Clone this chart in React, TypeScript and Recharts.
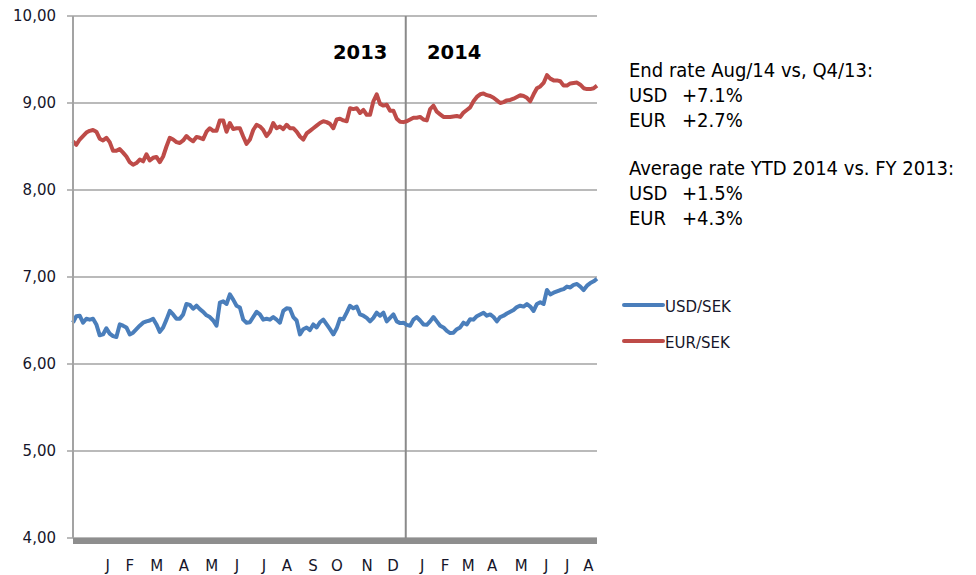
import { LineChart, Line, XAxis, YAxis, CartesianGrid, ReferenceLine, Legend } from "recharts"

// weekly-ish samples, Jan 2013 - Aug 2014
const usdSek = [
  6.475, 6.55, 6.555, 6.475, 6.52, 6.51, 6.52, 6.455, 6.33, 6.34,
  6.41, 6.35, 6.32, 6.31, 6.455, 6.44, 6.42, 6.34, 6.36, 6.4,
  6.44, 6.475, 6.49, 6.5, 6.52, 6.455, 6.37, 6.42, 6.51, 6.61,
  6.57, 6.52, 6.52, 6.57, 6.69, 6.68, 6.635, 6.67, 6.63, 6.6,
  6.56, 6.54, 6.5, 6.44, 6.705, 6.72, 6.69, 6.8, 6.74, 6.67,
  6.65, 6.51, 6.475, 6.48, 6.54, 6.6, 6.57, 6.51, 6.52, 6.51,
  6.54, 6.51, 6.475, 6.61, 6.64, 6.635, 6.54, 6.5, 6.34, 6.4,
  6.42, 6.39, 6.455, 6.42, 6.48, 6.51, 6.455, 6.4, 6.34, 6.41,
  6.52, 6.515, 6.59, 6.67, 6.64, 6.66, 6.57, 6.555, 6.53, 6.49,
  6.53, 6.59, 6.555, 6.59, 6.49, 6.53, 6.57, 6.49, 6.47, 6.475,
  6.45, 6.44, 6.51, 6.54, 6.5, 6.455, 6.45, 6.49, 6.54, 6.49,
  6.44, 6.42, 6.38, 6.355, 6.36, 6.4, 6.42, 6.475, 6.455, 6.515,
  6.51, 6.55, 6.57, 6.59, 6.555, 6.57, 6.54, 6.49, 6.54, 6.555,
  6.58, 6.6, 6.62, 6.655, 6.67, 6.66, 6.69, 6.66, 6.61, 6.69,
  6.71, 6.69, 6.85, 6.8, 6.82, 6.835, 6.85, 6.86, 6.89, 6.88,
  6.91, 6.92, 6.89, 6.85, 6.9, 6.93, 6.95, 6.98,
]

const eurSek = [
  8.56, 8.52, 8.58, 8.62, 8.66, 8.68, 8.69, 8.67, 8.59, 8.57,
  8.6, 8.55, 8.45, 8.45, 8.47, 8.43, 8.385, 8.32, 8.29, 8.31,
  8.35, 8.33, 8.41, 8.34, 8.37, 8.38, 8.32, 8.385, 8.5, 8.6,
  8.58, 8.55, 8.54, 8.57, 8.62, 8.585, 8.56, 8.61, 8.6, 8.585,
  8.67, 8.71, 8.68, 8.68, 8.8, 8.8, 8.67, 8.77, 8.7, 8.71,
  8.71, 8.615, 8.53, 8.58, 8.69, 8.75, 8.73, 8.69, 8.62, 8.67,
  8.77, 8.71, 8.73, 8.7, 8.75, 8.71, 8.71, 8.67, 8.615, 8.58,
  8.65, 8.68, 8.71, 8.74, 8.77, 8.79, 8.78, 8.76, 8.71, 8.81,
  8.82, 8.8, 8.79, 8.94, 8.93, 8.94, 8.885, 8.92, 8.865, 8.865,
  9.02, 9.1, 8.99, 8.97, 8.98, 8.91, 8.91, 8.82, 8.785, 8.78,
  8.79, 8.81, 8.83, 8.83, 8.84, 8.81, 8.8, 8.93, 8.97, 8.9,
  8.87, 8.84, 8.84, 8.84, 8.845, 8.85, 8.84, 8.89, 8.92, 8.95,
  9.02, 9.07, 9.1, 9.11, 9.09, 9.08, 9.06, 9.03, 9.0, 9.01,
  9.03, 9.035, 9.05, 9.07, 9.09, 9.08, 9.06, 9.02, 9.1, 9.17,
  9.19, 9.23, 9.32, 9.28, 9.26, 9.26, 9.25, 9.2, 9.2, 9.225,
  9.23, 9.235, 9.21, 9.17, 9.16, 9.16, 9.17, 9.2,
]

const seriesNames = ["USD/SEK", "EUR/SEK"]
const monthLabels = ["J", "F", "M", "A", "M", "J", "J", "A", "S", "O", "N", "D", "J", "F", "M", "A", "M", "J", "J", "A"]
const monthTicks = [10.4, 17.0, 25.1, 33.2, 41.6, 49.1, 57.2, 64.1, 71.9, 79.1, 88.1, 95.9, 104.6, 111.5, 118.4, 125.6, 134.3, 141.8, 148.1, 154.4]
const yearBreak = 99.7
const yTicks = [4, 5, 6, 7, 8, 9, 10]

const endRateLines = [
  ["USD", "+7.1%"],
  ["EUR", "+2.7%"],
]
const avgRateLines = [
  ["USD", "+1.5%"],
  ["EUR", "+4.3%"],
]

const data = usdSek.map((v, i) => ({ i, usd: v, eur: eurSek[i] }))

const BLUE = "#4a7ebb"
const RED = "#be4b48"
const GRID = "#a3a3a3"
const LABEL = "#16162a"

const renderLegend = (props: any) => {
  const items = [...(props.payload || [])].sort(
    (a: any, b: any) => seriesNames.indexOf(a.value) - seriesNames.indexOf(b.value)
  )
  return (
    <svg width={140} height={70}>
      {items.map((it: any, idx: number) => {
        const y = 15 + idx * 36
        return (
          <g key={it.value}>
            <line x1={2} x2={41} y1={y} y2={y} stroke={it.color} strokeWidth={4} strokeLinecap="round" />
            <text x={43} y={y + 7} fontSize={15} fill={LABEL} fontFamily="DejaVu Sans">
              {it.value}
            </text>
          </g>
        )
      })}
    </svg>
  )
}

export default function App() {
  const txt = { fontFamily: '"DejaVu Sans Condensed", "DejaVu Sans"', fontSize: 20, fill: "#000" }
  return (
    <div style={{ position: "absolute", left: 0, top: 0, width: 976, height: 575, background: "#fff" }}>
      <LineChart width={976} height={575} data={data} margin={{ top: 16, right: 379, bottom: 0, left: 0 }}>
        <CartesianGrid vertical={false} stroke={GRID} strokeWidth={1.5} />
        <XAxis
          dataKey="i"
          type="number"
          domain={[0, usdSek.length - 1]}
          ticks={monthTicks}
          interval={0}
          tickFormatter={(_v: number, idx: number) => monthLabels[idx]}
          height={37}
          tickLine={false}
          tickSize={0}
          tickMargin={22}
          axisLine={{ stroke: "#8e8e8e", strokeWidth: 6, transform: "translate(0,3)" }}
          tick={{ fontSize: 15, fill: LABEL, fontFamily: "DejaVu Sans" }}
        />
        <YAxis
          domain={[4, 10]}
          ticks={yTicks}
          width={73}
          interval={0}
          tickFormatter={(v: number) => v.toFixed(2).replace(".", ",")}
          axisLine={{ stroke: GRID, strokeWidth: 2 }}
          tickLine={{ stroke: GRID, strokeWidth: 1.5 }}
          tickSize={6}
          tickMargin={11}
          tick={{ fontSize: 15, fill: LABEL, fontFamily: "DejaVu Sans" }}
        />
        <ReferenceLine x={yearBreak} stroke="#8a8a8a" strokeWidth={2} />
        <Line
          type="linear"
          dataKey="usd"
          name="USD/SEK"
          stroke={BLUE}
          strokeWidth={4}
          dot={false}
          strokeLinejoin="round"
          isAnimationActive={false}
        />
        <Line
          type="linear"
          dataKey="eur"
          name="EUR/SEK"
          stroke={RED}
          strokeWidth={4}
          dot={false}
          strokeLinejoin="round"
          isAnimationActive={false}
        />
        <Legend
          layout="horizontal"
          verticalAlign="middle"
          align="center"
          content={renderLegend}
          wrapperStyle={{ position: "absolute", left: 622, top: 290, width: 140, height: 70 }}
        />
      </LineChart>
      <svg width={976} height={575} style={{ position: "absolute", left: 0, top: 0, pointerEvents: "none" }}>
        <text x={333} y={59} fontFamily="DejaVu Sans" fontWeight="bold" fontSize={19.5} fill="#000">2013</text>
        <text x={427} y={59} fontFamily="DejaVu Sans" fontWeight="bold" fontSize={19.5} fill="#000">2014</text>
        <text x={629} y={77} {...txt}>End rate Aug/14 vs, Q4/13:</text>
        {endRateLines.map(([c, p], idx) => (
          <text key={"e" + idx} y={102 + idx * 24.5} {...txt}>
            <tspan x={629}>{c}</tspan>
            <tspan x={682}>{p}</tspan>
          </text>
        ))}
        <text x={629} y={175} {...txt}>Average rate YTD 2014 vs. FY 2013:</text>
        {avgRateLines.map(([c, p], idx) => (
          <text key={"a" + idx} y={200 + idx * 25} {...txt}>
            <tspan x={629}>{c}</tspan>
            <tspan x={682}>{p}</tspan>
          </text>
        ))}
      </svg>
    </div>
  )
}
